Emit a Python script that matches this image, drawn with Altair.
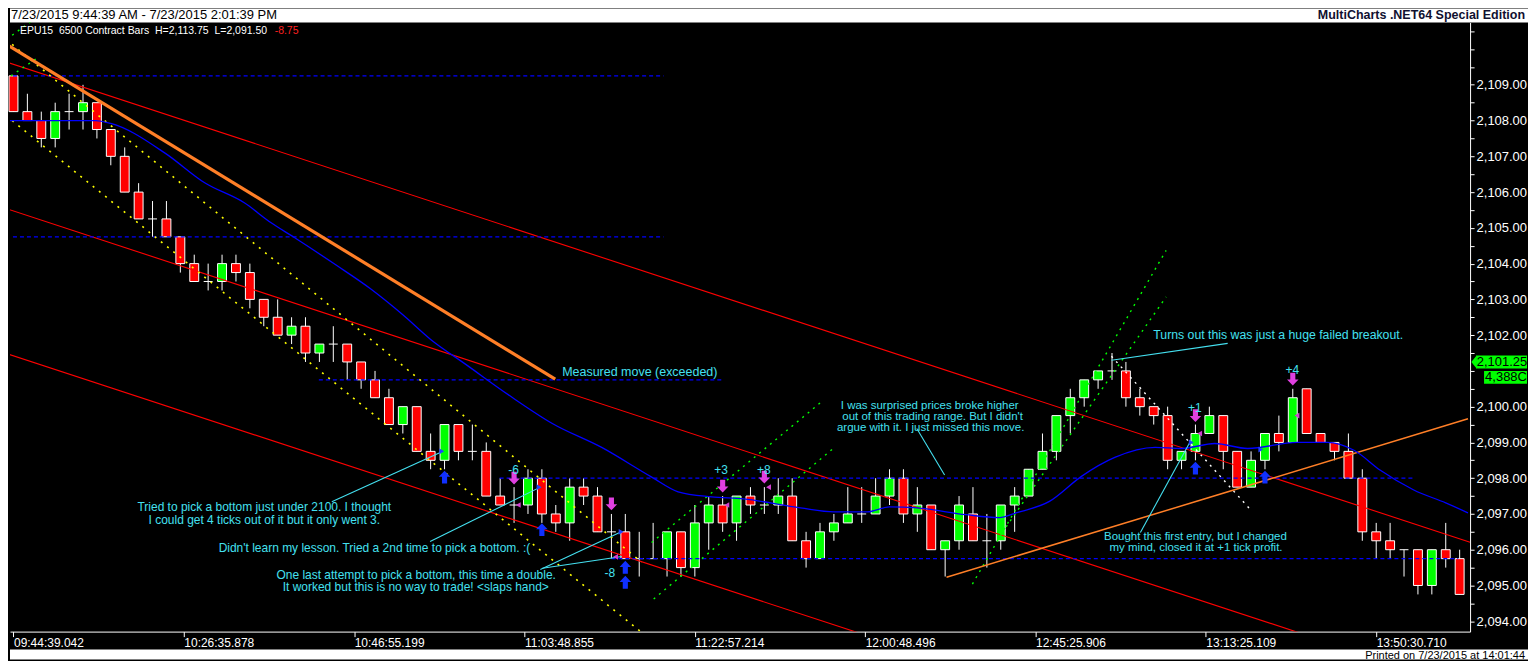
import altair as alt
import pandas as pd

# ---------------- data ----------------
opens = [2109.25, 2108.25, 2108.0, 2107.5, 2108.25, 2108.25, 2108.5, 2107.75, 2107.0, 2106.0,
         2105.25, 2105.25, 2104.75, 2104.0, 2103.5, 2103.5, 2104.0, 2103.75, 2103.0, 2102.5,
         2102.0, 2102.25, 2101.5, 2101.75, 2101.75, 2101.25, 2100.75, 2100.25, 2099.5, 2100.0,
         2098.75, 2098.5, 2099.5, 2098.75, 2098.75, 2097.5, 2097.25, 2097.25, 2098.0, 2097.0,
         2096.75, 2097.75, 2097.5, 2096.5, 2096.5, 2095.75, 2095.75, 2095.75, 2096.5, 2095.5,
         2096.75, 2097.25, 2096.75, 2097.5, 2097.25, 2097.25, 2097.5, 2096.25, 2095.75, 2096.5,
         2096.75, 2097.0, 2097.0, 2097.5, 2098.0, 2097.0, 2097.25, 2096.0, 2096.25, 2097.0,
         2096.25, 2096.25, 2097.25, 2097.5, 2098.25, 2098.75, 2099.75, 2100.25, 2100.75, 2101.0,
         2101.0, 2100.25, 2100.0, 2099.75, 2098.5, 2098.75, 2099.25, 2099.75, 2098.75, 2097.75,
         2098.5, 2099.25, 2099.0, 2100.5, 2099.25, 2099.0, 2098.75, 2098.0, 2096.5, 2096.25,
         2096.0, 2096.0, 2095.0, 2096.0, 2095.75]
closes = [2108.25, 2108.0, 2107.5, 2108.25, 2108.25, 2108.5, 2107.75, 2107.0, 2106.0, 2105.25,
          2105.25, 2104.75, 2104.0, 2103.5, 2103.5, 2104.0, 2103.75, 2103.0, 2102.5, 2102.0,
          2102.25, 2101.5, 2101.75, 2101.75, 2101.25, 2100.75, 2100.25, 2099.5, 2100.0, 2098.75,
          2098.5, 2099.5, 2098.75, 2098.75, 2097.5, 2097.25, 2097.25, 2098.0, 2097.0, 2096.75,
          2097.75, 2097.5, 2096.5, 2096.5, 2095.75, 2095.75, 2095.75, 2096.5, 2095.5, 2096.75,
          2097.25, 2096.75, 2097.5, 2097.25, 2097.25, 2097.5, 2096.25, 2095.75, 2096.5, 2096.75,
          2097.0, 2097.0, 2097.5, 2098.0, 2097.0, 2097.25, 2096.0, 2096.25, 2097.25, 2096.25,
          2096.25, 2097.25, 2097.5, 2098.25, 2098.75, 2099.75, 2100.25, 2100.75, 2101.0, 2101.0,
          2100.25, 2100.0, 2099.75, 2098.5, 2098.75, 2099.25, 2099.75, 2098.75, 2097.75, 2098.5,
          2099.25, 2099.0, 2100.25, 2099.25, 2099.0, 2098.75, 2098.0, 2096.5, 2096.25, 2096.0,
          2096.0, 2095.0, 2096.0, 2095.75, 2094.75]
highs = [2109.25, 2108.75, 2108.25, 2108.5, 2108.75, 2109.0, 2108.5, 2107.75, 2107.25, 2106.25,
         2105.75, 2105.75, 2104.75, 2104.25, 2104.0, 2104.25, 2104.25, 2104.0, 2103.0, 2103.0,
         2102.5, 2102.5, 2101.75, 2102.25, 2101.75, 2101.25, 2101.0, 2100.5, 2100.0, 2100.0,
         2099.25, 2099.5, 2099.5, 2099.5, 2099.0, 2098.0, 2097.75, 2098.25, 2098.25, 2097.25,
         2098.0, 2098.0, 2097.75, 2097.0, 2097.0, 2096.5, 2096.75, 2096.5, 2096.5, 2097.25,
         2097.5, 2097.5, 2097.5, 2097.75, 2097.75, 2098.0, 2098.0, 2096.5, 2096.75, 2097.0,
         2097.75, 2097.75, 2098.0, 2098.25, 2098.25, 2097.75, 2097.25, 2096.25, 2097.5, 2097.75,
         2097.0, 2097.25, 2097.75, 2098.25, 2099.25, 2099.75, 2100.5, 2100.75, 2101.0, 2101.5,
         2101.25, 2100.5, 2100.0, 2100.0, 2098.75, 2099.5, 2100.0, 2099.75, 2098.75, 2098.75,
         2099.25, 2099.75, 2100.5, 2100.5, 2099.25, 2099.0, 2099.25, 2098.25, 2096.75, 2096.75,
         2096.0, 2096.0, 2096.0, 2096.75, 2096.0]
lows = [2108.25, 2108.0, 2107.25, 2107.25, 2107.75, 2107.75, 2107.5, 2106.75, 2106.0, 2105.25,
        2104.75, 2104.75, 2103.75, 2103.5, 2103.25, 2103.25, 2103.5, 2102.75, 2102.25, 2102.0,
        2101.75, 2101.25, 2101.25, 2101.25, 2100.75, 2100.5, 2100.25, 2099.5, 2099.25, 2098.75,
        2098.25, 2098.25, 2098.5, 2098.5, 2097.5, 2097.25, 2096.75, 2097.0, 2096.75, 2096.5,
        2096.25, 2097.25, 2096.5, 2095.75, 2095.75, 2095.25, 2095.75, 2095.25, 2095.25, 2095.25,
        2096.0, 2096.5, 2096.25, 2097.0, 2097.0, 2097.0, 2096.25, 2095.5, 2095.75, 2096.25,
        2096.75, 2096.75, 2097.0, 2097.25, 2096.75, 2096.5, 2096.0, 2095.25, 2096.0, 2096.25,
        2095.5, 2096.0, 2096.5, 2097.5, 2098.25, 2098.5, 2099.25, 2100.0, 2100.5, 2100.75,
        2100.0, 2099.75, 2099.5, 2098.25, 2098.25, 2098.5, 2099.25, 2098.25, 2097.75, 2097.75,
        2098.25, 2098.75, 2099.0, 2099.25, 2099.0, 2098.5, 2098.0, 2096.25, 2095.75, 2095.75,
        2095.25, 2094.75, 2094.75, 2095.5, 2094.75]

time_labels = ["09:44:39.042", "10:26:35.878", "10:46:55.199", "11:03:48.855", "11:22:57.214",
               "12:00:48.496", "12:45:25.906", "13:13:25.109", "13:50:30.710"]
time_ticks = [0, 12.25, 24.5, 36.75, 49, 61.25, 73.5, 85.75, 98]
price_ticks = [2094 + 0.5 * k for k in range(34)]

# moving average (blue) read at bar positions
ma_i = [-0.5, 5.9, 7.0, 10.9, 13.75, 16.6, 18.5, 20.2, 23.2, 25.7, 28.0, 30.0, 32.5, 35.9, 38.75,
        42.3, 45.9, 47.8, 50.2, 52.5, 56.6, 59.0, 61.4, 63.0, 65.0, 68.5, 70.9, 72.1, 74.5, 76.8,
        79.2, 82.1, 84.0, 86.4, 88.75, 92.3, 94.5, 96.4, 98.3, 100.7, 103.0, 104.6]
ma_p = [2108.0, 2108.0, 2107.92, 2107.09, 2106.26, 2105.70, 2105.15, 2104.73, 2103.96, 2103.29,
        2102.57, 2101.88, 2101.19, 2100.25, 2099.53, 2098.86, 2098.03, 2097.62, 2097.48, 2097.42,
        2097.17, 2097.06, 2097.06, 2097.20, 2097.17, 2096.98, 2096.90, 2097.03, 2097.35, 2098.05,
        2098.58, 2098.86, 2098.83, 2098.97, 2098.83, 2099.0, 2099.0, 2098.78, 2098.22, 2097.67,
        2097.31, 2097.03]

# drawn lines: ((bar, price), (bar, price))
red_lines = [((-0.54, 2109.64), (104.75, 2096.21)),
             ((-0.54, 2105.54), (104.75, 2092.11)),
             ((-0.54, 2101.49), (104.75, 2088.07))]
orange_thick = [((-0.54, 2110.14), (38.96, 2100.77))]
orange_thin = [((67.1, 2095.23), (104.6, 2099.66))]
yellow_lines = [((-0.54, 2108.14), (45.6, 2093.55)),
                ((-0.54, 2110.27), (45.18, 2095.65))]
green_lines = [((46.04, 2094.62), (58.89, 2098.81)),
               ((45.89, 2096.2), (58.18, 2100.16)),
               ((68.96, 2095.04), (82.89, 2104.37)),
               ((71.1, 2096.48), (82.89, 2103.07)),
               ((-0.5, 2110.27), (1.25, 2110.77)),
               ((-0.18, 2109.25), (1.6, 2109.72))]
white_dotted = [((78.96, 2101.41), (88.96, 2097.12))]
blue_dashed = [((-0.54, 2109.25), (46.75, 2109.25)),
               ((-0.54, 2104.75), (46.75, 2104.75)),
               ((21.96, 2100.75), (50.9, 2100.75)),
               ((34.96, 2098.0), (100.75, 2098.0)),
               ((43.0, 2095.75), (103.9, 2095.75))]
cyan_lines = [((22.89, 2097.34), (30.89, 2098.75)),
              ((29.96, 2096.23), (37.89, 2097.75)),
              ((37.89, 2095.45), (43.75, 2096.51)),
              ((38.04, 2095.48), (43.75, 2095.81)),
              ((64.96, 2099.39), (66.96, 2098.09)),
              ((78.96, 2101.30), (87.32, 2101.77)),
              ((81.04, 2096.48), (84.68, 2099.06))]

up_arrows_i = [31, 38, 44, 44, 85, 90]
up_arrows_p = [2098.03, 2096.56, 2095.51, 2095.09, 2098.28, 2098.03]
down_arrows_i = [36, 43, 51, 54, 85, 92]
down_arrows_p = [2098.0, 2097.28, 2097.78, 2098.03, 2099.75, 2100.77]
entry_i = [30.8, 37.8, 43.7, 84.7, 89.7]
entry_p = [2098.75, 2097.75, 2096.5, 2099.0, 2098.8]
exit_i = [36.3, 43.3, 51.3, 54.3, 85.3, 92.3]
exit_p = [2097.25, 2095.8, 2097.25, 2097.75, 2099.25, 2099.75]

trade_text = ["-6", "+3", "+8", "+1", "+4", "-8"]
trade_i = [35.96, 50.89, 53.96, 84.96, 91.96, 42.89]
trade_p = [2098.22, 2098.22, 2098.22, 2099.97, 2101.02, 2095.34]

note_center_text = ["Tried to pick a bottom just under 2100. I thought",
                    "I could get 4 ticks out of it but it only went 3.",
                    "Didn't learn my lesson. Tried a 2nd time to pick a bottom. :(",
                    "One last attempt to pick a bottom, this time a double.",
                    "It worked but this is no way to trade! <slaps hand>",
                    "I was surprised prices broke higher",
                    "out of this trading range. But I didn't",
                    "argue with it. I just missed this move.",
                    "Bought this first entry, but I changed",
                    "my mind, closed it at +1 tick profit."]
note_center_i = [18.04, 18.04, 25.96, 28.96, 28.93, 65.89, 66.1, 65.96, 85.0, 85.04]
note_center_p = [2097.20, 2096.84, 2096.04, 2095.30, 2094.97, 2100.03, 2099.72, 2099.41, 2096.36, 2096.05]
note_center_size = [12, 12, 12, 12, 12, 11.5, 11.5, 11.5, 11.5, 11.5]
note_left_text = ["Measured move (exceeded)", "Turns out this was just a huge failed breakout."]
note_left_i = [39.46, 81.97]
note_left_p = [2100.97, 2101.99]
note_left_size = [12.5, 12.3]

last_price = 2101.25
last_volume = "4,388C"

# ---------------- chart ----------------
W, H = 1462, 610
TOTAL_W = 1520
FONT = "Liberation Sans"
CYAN = "#44e0f0"
XS = alt.Scale(domain=[-0.25, 104.75], nice=False, zero=False)
YS = alt.Scale(domain=[2093.71, 2110.745], nice=False, zero=False)

# label expression for the time axis (nested conditions on the tick position)
xexpr = "''"
for k in range(len(time_ticks) - 1, -1, -1):
    xexpr = f"(abs(datum.value - {time_ticks[k]}) < 1 ? '{time_labels[k]}' : {xexpr})"

XAXIS = alt.Axis(
    orient="bottom", values=time_ticks, title=None, labelExpr=xexpr,
    labelAlign="left", labelBaseline="top", labelColor="white", labelFont=FONT,
    labelFontSize=12, labelPadding=1, labelFlush=False, labelOverlap=False,
    tickColor="white", tickSize=5, domainColor="white", grid=False)
YAXIS = alt.Axis(
    orient="right", values=price_ticks, title=None,
    labelExpr="(datum.value % 1 == 0 && datum.value <= 2109 && datum.value != 2101) ? format(datum.value, ',.2f') : ''",
    labelColor="white", labelFont=FONT, labelFontSize=13, labelPadding=2,
    labelFlush=False, labelOverlap=False,
    tickColor="white", tickSize=4, domainColor="white", grid=False)


def X(f):
    return alt.X(f + ":Q", scale=XS, axis=XAXIS)


def Y(f):
    return alt.Y(f + ":Q", scale=YS, axis=YAXIS)


def seg_layer(segs, color, width=1.0, dash=None):
    rows = []
    for k, ((x0, y0), (x1, y1)) in enumerate(segs):
        rows.append({"seg": k, "i": x0, "p": y0, "o": 0})
        rows.append({"seg": k, "i": x1, "p": y1, "o": 1})
    kw = dict(color=color, strokeWidth=width, clip=True)
    if dash:
        kw["strokeDash"] = dash
    return alt.Chart(pd.DataFrame(rows)).mark_line(**kw).encode(
        x=X("i"), y=Y("p"), detail="seg:N", order="o:Q")


one = pd.DataFrame({"a": [0]})

cdf = pd.DataFrame({"i": list(range(len(opens))), "open": opens, "high": highs,
                    "low": lows, "close": closes})
cdf["x0"] = cdf["i"] - 0.32
cdf["x1"] = cdf["i"] + 0.32
cdf["kind"] = ["up" if c > o else ("down" if c < o else "flat") for o, c in zip(opens, closes)]

wicks = alt.Chart(cdf).mark_rule(color="white", strokeWidth=1).encode(
    x=X("i"), y=Y("low"), y2="high:Q")

# white header / footer bands (they also set the overall canvas extent)
header = alt.Chart(one).mark_rect(color="white").encode(
    x=alt.value(0), x2=alt.value(TOTAL_W), y=alt.value(-14), y2=alt.value(0))
footer = alt.Chart(one).mark_rect(color="white").encode(
    x=alt.value(0), x2=alt.value(TOTAL_W), y=alt.value(628), y2=alt.value(638))

bodies = alt.Chart(cdf).transform_filter("datum.kind != 'flat'").mark_rect(
    stroke="white", strokeWidth=1).encode(
    x=X("x0"), x2="x1:Q", y=Y("open"), y2="close:Q",
    color=alt.Color("kind:N", scale=alt.Scale(domain=["up", "down"], range=["#00ff00", "#ff0000"]),
                    legend=None))

dojis = alt.Chart(cdf).transform_filter("datum.kind == 'flat'").mark_rule(
    color="white", strokeWidth=1).encode(x=X("x0"), x2="x1:Q", y=Y("close"))

ma = alt.Chart(pd.DataFrame({"i": ma_i, "p": ma_p})).mark_line(
    color="#0000ff", strokeWidth=1.3, interpolate="monotone", clip=True).encode(x=X("i"), y=Y("p"))

UP = "M0,-1L0.9,-0.05L0.4,-0.05L0.4,1L-0.4,1L-0.4,-0.05L-0.9,-0.05Z"
DOWN = "M0,1L0.9,0.05L0.4,0.05L0.4,-1L-0.4,-1L-0.4,0.05L-0.9,0.05Z"

up_arr = alt.Chart(pd.DataFrame({"i": up_arrows_i, "p": up_arrows_p})).mark_point(
    shape=UP, filled=True, size=165, color="#1030ff", opacity=1).encode(x=X("i"), y=Y("p"))
down_arr = alt.Chart(pd.DataFrame({"i": down_arrows_i, "p": down_arrows_p})).mark_point(
    shape=DOWN, filled=True, size=165, color="#e040e0", opacity=1).encode(x=X("i"), y=Y("p"))
entries = alt.Chart(pd.DataFrame({"i": entry_i, "p": entry_p})).mark_point(
    shape="triangle-right", filled=True, size=32, color="#2040ff", opacity=1).encode(x=X("i"), y=Y("p"))
exits = alt.Chart(pd.DataFrame({"i": exit_i, "p": exit_p})).mark_point(
    shape="triangle-left", filled=True, size=32, color="#d040d0", opacity=1).encode(x=X("i"), y=Y("p"))

trades = alt.Chart(pd.DataFrame({"i": trade_i, "p": trade_p, "t": trade_text})).mark_text(
    color=CYAN, font=FONT, fontSize=12, align="center", baseline="middle").encode(
    x=X("i"), y=Y("p"), text="t:N")

notes_c = alt.Chart(pd.DataFrame({"i": note_center_i, "p": note_center_p, "t": note_center_text,
                                  "s": note_center_size})).mark_text(
    color=CYAN, font=FONT, align="center", baseline="middle").encode(
    x=X("i"), y=Y("p"), text="t:N", size=alt.Size("s:Q", scale=None, legend=None))
notes_l = alt.Chart(pd.DataFrame({"i": note_left_i, "p": note_left_p, "t": note_left_text,
                                  "s": note_left_size})).mark_text(
    color=CYAN, font=FONT, align="left", baseline="middle").encode(
    x=X("i"), y=Y("p"), text="t:N", size=alt.Size("s:Q", scale=None, legend=None))

# last price marker on the price axis
lp = pd.DataFrame({"p": [last_price], "top": [last_price + 0.18], "bot": [last_price - 0.18],
                   "t": [f"{last_price:,.2f}"]})
lv = pd.DataFrame({"p": [last_price - 0.43], "top": [last_price - 0.25], "bot": [last_price - 0.61],
                   "t": [last_volume]})
lp_box = alt.Chart(lp).mark_rect(color="#00ff00").encode(
    x=alt.value(W + 6), x2=alt.value(W + 57), y=Y("top"), y2="bot:Q")
lp_tip = alt.Chart(lp).mark_point(shape="M-0.8,0L0,-1L0,1Z", filled=True, size=170,
                                  color="#00ff00", opacity=1).encode(x=alt.value(W + 6.5), y=Y("p"))
lp_txt = alt.Chart(lp).mark_text(color="black", font=FONT, fontSize=13, align="center",
                                 baseline="middle").encode(x=alt.value(W + 32), y=Y("p"), text="t:N")
lv_box = alt.Chart(lv).mark_rect(color="#00ff00").encode(
    x=alt.value(W + 14), x2=alt.value(W + 57), y=Y("top"), y2="bot:Q")
lv_txt = alt.Chart(lv).mark_text(color="black", font=FONT, fontSize=13, align="center",
                                 baseline="middle").encode(x=alt.value(W + 36), y=Y("p"), text="t:N")

hdr_left = alt.Chart(one).mark_text(
    text="7/23/2015 9:44:39 AM - 7/23/2015 2:01:39 PM", color="black", font=FONT, fontSize=13,
    align="left", baseline="alphabetic").encode(x=alt.value(1), y=alt.value(-3))
hdr_right = alt.Chart(one).mark_text(
    text="MultiCharts .NET64 Special Edition", color="#101030", font=FONT, fontSize=12.5,
    fontWeight="bold", align="right", baseline="alphabetic").encode(x=alt.value(1517), y=alt.value(-3))
ftr = alt.Chart(one).mark_text(
    text="Printed on 7/23/2015 at 14:01:44", color="black", font=FONT, fontSize=11,
    align="right", baseline="alphabetic").encode(x=alt.value(1517), y=alt.value(637))
legend_w = alt.Chart(one).mark_text(
    text="EPU15\u00a0\u00a06500 Contract Bars\u00a0\u00a0H=2,113.75\u00a0\u00a0L=2,091.50",
    color="white", font=FONT, fontSize=10.5, align="left", baseline="middle").encode(
    x=alt.value(10), y=alt.value(9))
legend_r = alt.Chart(one).mark_text(
    text="-8.75", color="#ff2020", font=FONT, fontSize=10.5, align="left", baseline="middle").encode(
    x=alt.value(265), y=alt.value(9))

layers = [
    wicks, header, footer, bodies, dojis,
    seg_layer(red_lines, "#ff0000", 1.1),
    seg_layer(blue_dashed, "#0000ff", 1.2, [4, 3]),
    seg_layer(yellow_lines, "#ffff00", 1.6, [2, 6]),
    seg_layer(green_lines, "#00ff00", 1.4, [2, 5]),
    seg_layer(white_dotted, "#ffffff", 1.4, [2, 5]),
    seg_layer(orange_thin, "#ff7f27", 1.5),
    seg_layer(orange_thick, "#ff7f27", 3.2),
    ma,
    seg_layer(cyan_lines, CYAN, 1.1),
    entries, exits, up_arr, down_arr,
    trades, notes_c, notes_l,
    lp_tip, lp_box, lp_txt, lv_box, lv_txt,
    hdr_left, hdr_right, ftr, legend_w, legend_r,
]

chart = alt.layer(*layers).properties(
    width=W, height=H,
    padding=0,
    background="black",
).configure_view(strokeWidth=0)

chart.save("out.html", embed_options={"renderer": "svg", "actions": False})
